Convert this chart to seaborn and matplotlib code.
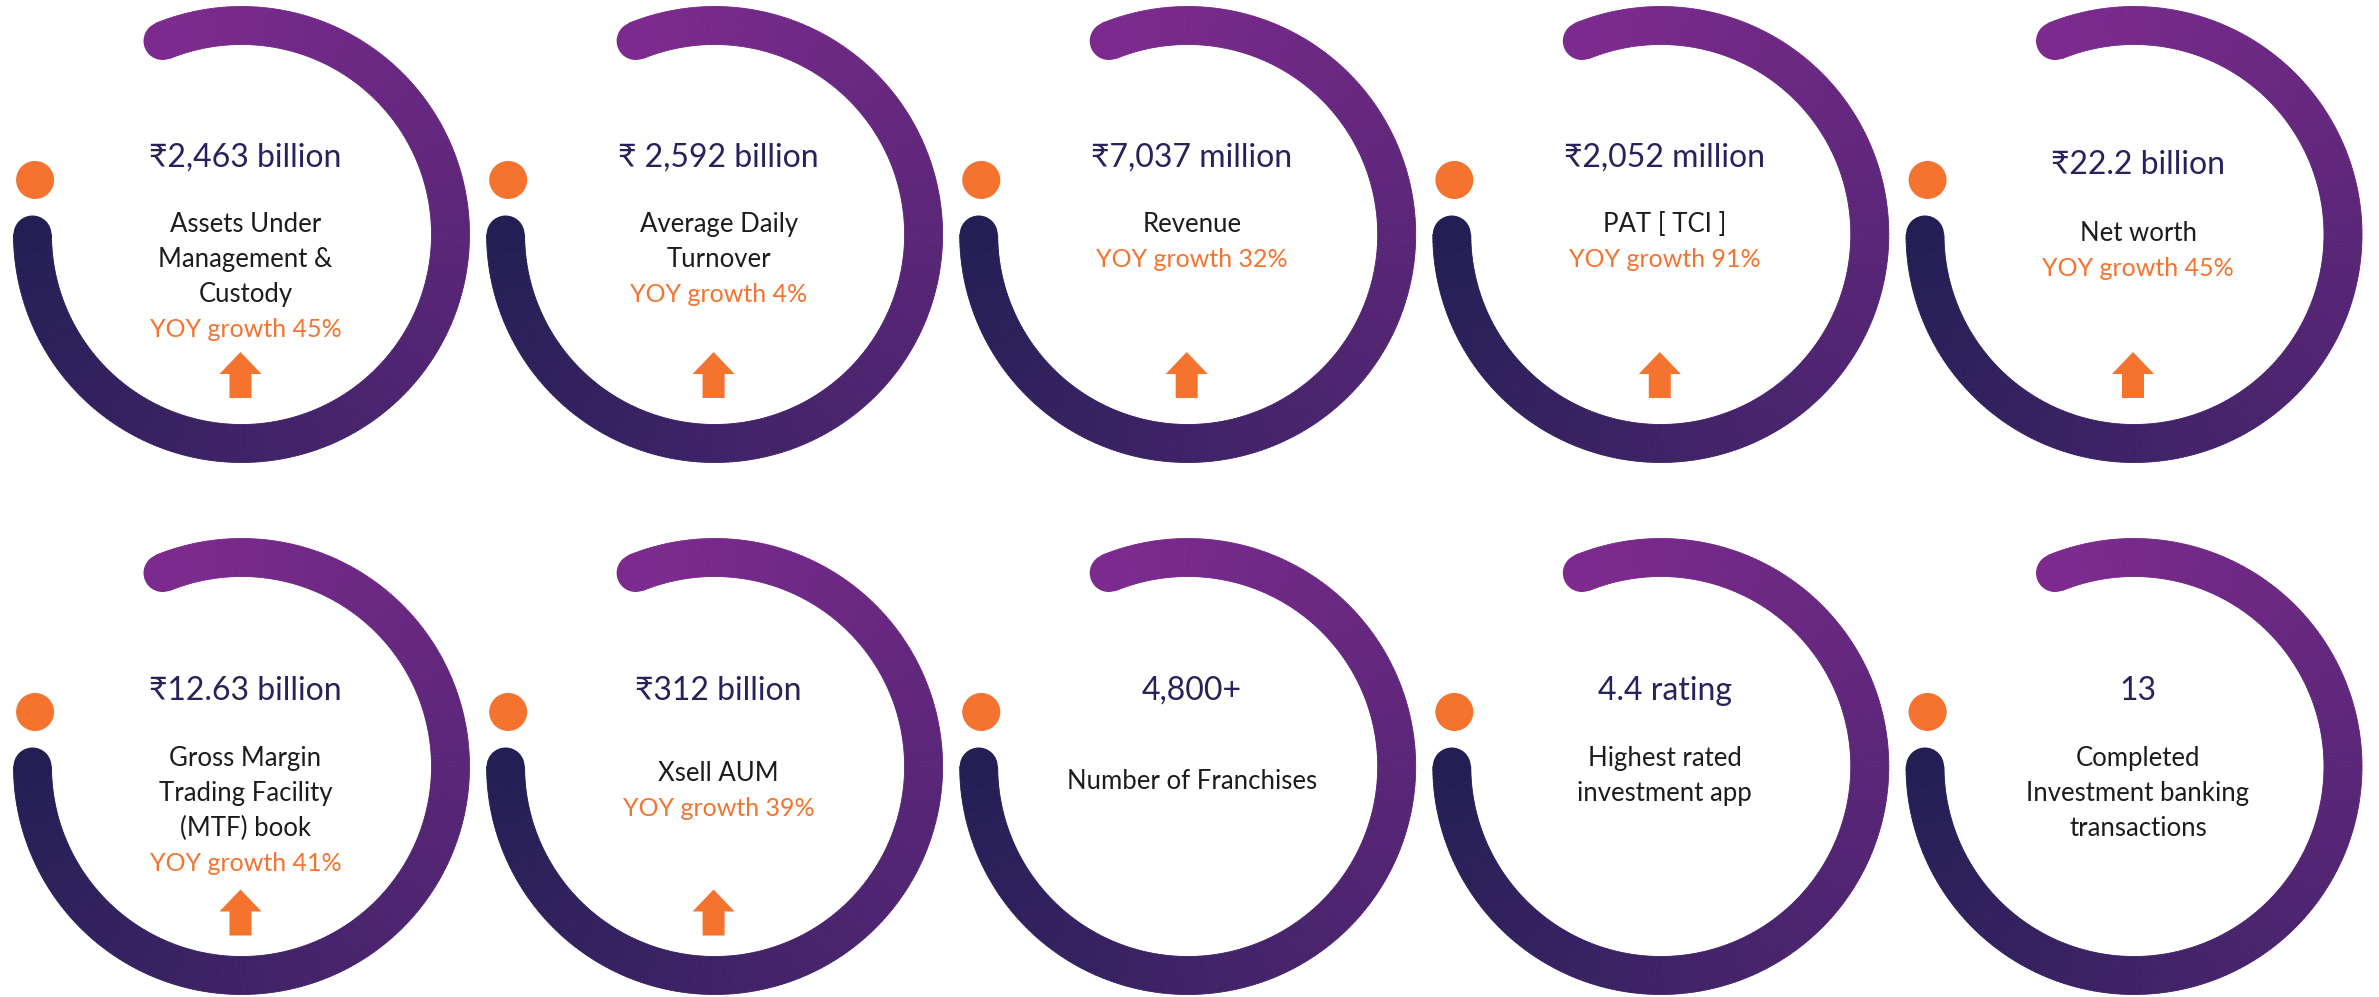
import numpy as np
import matplotlib
matplotlib.use("Agg")
import matplotlib.pyplot as plt
from matplotlib.collections import PolyCollection
from matplotlib.patches import Circle, Polygon
import seaborn as sns

# figures shown in the rings
values = ["₹2,463 billion", "₹ 2,592 billion", "₹7,037 million", "₹2,052 million", "₹22.2 billion",
          "₹12.63 billion", "₹312 billion", "4,800+", "4.4 rating", "13"]
labels = [["Assets Under", "Management &", "Custody"],
          ["Average Daily", "Turnover"],
          ["Revenue"],
          ["PAT [ TCI ]"],
          ["Net worth"],
          ["Gross Margin", "Trading Facility", "(MTF) book"],
          ["Xsell AUM"],
          ["Number of Franchises"],
          ["Highest rated", "investment app"],
          ["Completed", "Investment banking", "transactions"]]
growth = [45, 4, 32, 91, 45, 41, 39, None, None, None]
has_arrow = [True, True, True, True, True, True, True, False, False, False]

sns.set_theme(style="white")
plt.rcParams["font.family"] = ["Lato", "DejaVu Sans"]

W, H = 2379, 997
fig = plt.figure(figsize=(W / 100, H / 100), dpi=100)
ax = fig.add_axes([0, 0, 1, 1])
ax.set_xlim(0, W)
ax.set_ylim(H, 0)
ax.axis("off")

navy = "#27225C"
orange = "#F3732F"
ring_start, ring_end = "#231F55", "#7D2A8E"

col_x = [241.5, 714.6, 1187.7, 1660.8, 2134.0]
row_y = [234.5, 766.5]
r_mid, half_w = 209, 19
a0, a1 = 180, 472.2
nseg = 300
pal = sns.blend_palette([ring_start, ring_end], n_colors=nseg)

# layout offsets (px from ring centre)
value_mid = [-79.5, -79.5, -79.5, -79.5, -71.5, -78.5, -78.5, -78.5, -78.5, -78.5]
desc_mid = [-11.5, -11.5, -11.5, -11.5, -2.5, -9.5, 5.5, 13.5, -9.5, -9.5]
line_gap = 35
arrow_top = [117.5, 123]


def pt(cx, cy, r, deg):
    t = np.radians(deg)
    return cx + r * np.cos(t), cy - r * np.sin(t)


for i in range(10):
    row, col = divmod(i, 5)
    cx, cy = col_x[col], row_y[row]

    angs = np.linspace(a0, a1, nseg + 1)
    polys = []
    for a, b in zip(angs[:-1], angs[1:]):
        p1 = pt(cx, cy, r_mid + half_w, a)
        p2 = pt(cx, cy, r_mid + half_w, b)
        p3 = pt(cx, cy, r_mid - half_w, b)
        p4 = pt(cx, cy, r_mid - half_w, a)
        polys.append([p1, p2, p3, p4])
    pc = PolyCollection(polys, facecolors=pal, edgecolors=pal, linewidths=0.6)
    ax.add_collection(pc)
    ax.add_patch(Circle(pt(cx, cy, r_mid, a0), half_w, color=pal[0], lw=0))
    ax.add_patch(Circle(pt(cx, cy, r_mid, a1), half_w, color=pal[-1], lw=0))

    # orange dot in the gap
    ax.add_patch(Circle(pt(cx, cy, 213.5, 165.2), 19, color=orange, lw=0))

    tx = cx + 4
    ax.text(tx, cy + value_mid[i] + 11.5, values[i], ha="center", va="baseline",
            fontsize=23, color=navy)
    y = cy + desc_mid[i]
    for line in labels[i]:
        ax.text(tx, y + 9, line, ha="center", va="baseline", fontsize=18.5,
                color="#1C1C1C")
        y += line_gap
    if growth[i] is not None:
        ax.text(tx, y + 9, f"YOY growth {growth[i]}%", ha="center", va="baseline",
                fontsize=18, color=orange)

    if has_arrow[i]:
        t = cy + arrow_top[row]
        ax_ = cx - 1
        arrow = [(ax_, t), (ax_ + 21, t + 22), (ax_ + 11, t + 22), (ax_ + 11, t + 46),
                 (ax_ - 11, t + 46), (ax_ - 11, t + 22), (ax_ - 21, t + 22)]
        ax.add_patch(Polygon(arrow, closed=True, color=orange, lw=0))

fig.savefig("out.png", dpi=100, facecolor="white")
